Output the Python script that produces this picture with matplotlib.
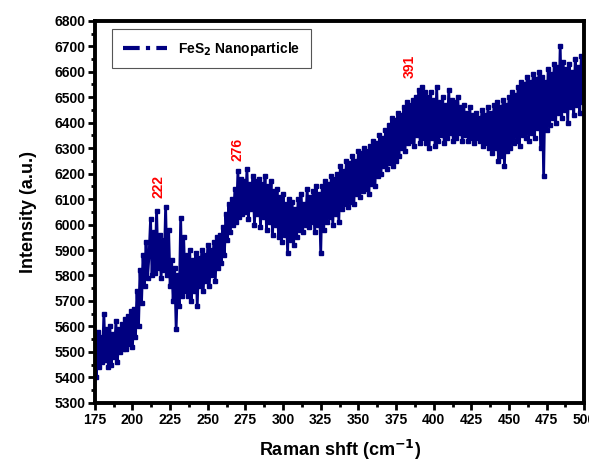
import matplotlib
matplotlib.use("Agg")
import matplotlib.pyplot as plt
import matplotlib.ticker as mplticker
import numpy as np

#
# Data (one value per cm-1 from 175 to 500)
#

intensity = [
    5520, 5400, 5580, 5440, 5560, 5460, 5650, 5470, 5590, 5440,  # 175-184
    5600, 5450, 5570, 5480, 5620, 5460, 5590, 5500, 5610, 5510,  # 185-194
    5630, 5510, 5640, 5530, 5660, 5520, 5670, 5560, 5740, 5600,  # 195-204
    5820, 5690, 5880, 5760, 5930, 5790, 5880, 6020, 5800, 5970,  # 205-214
    5810, 6055, 5830, 5960, 5790, 5940, 5820, 6070, 5800, 5980,  # 215-224
    5760, 5860, 5700, 5830, 5590, 5800, 5680, 6025, 5720, 5950,  # 225-234
    5740, 5880, 5720, 5900, 5700, 5860, 5740, 5890, 5680, 5870,  # 235-244
    5760, 5900, 5740, 5880, 5780, 5920, 5760, 5900, 5800, 5930,  # 245-254
    5780, 5950, 5830, 5960, 5850, 5990, 5880, 6040, 5940, 6080,  # 255-264
    5970, 6100, 6000, 6140, 6010, 6210, 6030, 6180, 6040, 6170,  # 265-274
    6050, 6220, 6020, 6160, 6060, 6190, 6000, 6170, 6040, 6180,  # 275-284
    5990, 6160, 6030, 6190, 5980, 6150, 6010, 6170, 5960, 6130,  # 285-294
    6000, 6140, 5950, 6110, 5930, 6120, 5960, 6080, 5890, 6100,  # 295-304
    5940, 6090, 5920, 6060, 5950, 6100, 5980, 6120, 5970, 6080,  # 305-314
    6000, 6140, 5990, 6110, 6010, 6130, 5970, 6150, 6000, 6120,  # 315-324
    5890, 6150, 5980, 6170, 6010, 6160, 6030, 6190, 6000, 6180,  # 325-334
    6040, 6200, 6010, 6230, 6060, 6210, 6080, 6250, 6070, 6240,  # 335-344
    6090, 6270, 6080, 6250, 6120, 6290, 6110, 6280, 6130, 6300,  # 345-354
    6140, 6290, 6120, 6310, 6160, 6330, 6150, 6320, 6190, 6350,  # 355-364
    6200, 6340, 6230, 6370, 6220, 6390, 6240, 6420, 6230, 6410,  # 365-374
    6250, 6440, 6270, 6430, 6300, 6460, 6290, 6480, 6320, 6470,  # 375-384
    6330, 6490, 6310, 6500, 6350, 6530, 6320, 6540, 6340, 6520,  # 385-394
    6320, 6500, 6300, 6520, 6340, 6490, 6310, 6540, 6330, 6480,  # 395-404
    6350, 6500, 6320, 6470, 6340, 6530, 6360, 6490, 6330, 6480,  # 405-414
    6340, 6500, 6360, 6460, 6330, 6470, 6350, 6440, 6330, 6460,  # 415-424
    6340, 6430, 6320, 6440, 6340, 6420, 6330, 6450, 6310, 6430,  # 425-434
    6320, 6460, 6300, 6440, 6280, 6470, 6300, 6480, 6250, 6460,  # 435-444
    6270, 6490, 6230, 6470, 6290, 6500, 6300, 6520, 6320, 6510,  # 445-454
    6330, 6540, 6310, 6560, 6350, 6550, 6340, 6580, 6330, 6560,  # 455-464
    6360, 6590, 6340, 6570, 6380, 6600, 6300, 6580, 6190, 6560,  # 465-474
    6370, 6610, 6390, 6590, 6420, 6630, 6400, 6620, 6440, 6700,  # 475-484
    6420, 6640, 6450, 6610, 6400, 6630, 6460, 6600, 6430, 6650,  # 485-494
    6470, 6620, 6440, 6660, 6480, 6640,                          # 495-500
]
raman_shift = 175 + np.arange(len(intensity))

peak_labels = ["222", "276", "391"]
peak_x = [217, 270, 384]
peak_y = [6150, 6295, 6620]

#
# Graph
#

plt.rcParams["font.family"] = ["Liberation Sans", "DejaVu Sans"]
plt.rcParams["font.weight"] = "bold"
plt.rcParams["mathtext.default"] = "bf"

fig = plt.figure(figsize=(5.89, 4.63), dpi=100)
axes = fig.add_axes([0.161, 0.13, 0.831, 0.825])

# Dense data: drawn solid so the band fills like the reference
axes.plot(raman_shift, intensity, color="#000080", linestyle="-", linewidth=2.0,
          marker="s", markersize=2.8, label="FeS$_2$ Nanoparticle")

for label, px, py in zip(peak_labels, peak_x, peak_y):
    axes.text(px, py, label, color="red", rotation=90, fontsize=10, fontweight="bold",
              ha="center", va="center")

axes.set_xlim(175, 500)
axes.set_ylim(5300, 6800)
axes.xaxis.set_major_locator(mplticker.MultipleLocator(25))
axes.xaxis.set_minor_locator(mplticker.MultipleLocator(12.5))
axes.yaxis.set_major_locator(mplticker.MultipleLocator(100))
axes.yaxis.set_minor_locator(mplticker.MultipleLocator(50))
axes.tick_params(which="major", direction="out", length=5, width=2, labelsize=10, pad=2)
axes.tick_params(which="minor", direction="out", length=3, width=2)
for spine in axes.spines.values():
    spine.set_linewidth(2.8)

axes.set_xlabel("Raman shft (cm$^{\\mathrm{-1}}$)", fontsize=13, fontweight="bold", labelpad=8)
axes.set_ylabel("Intensity (a.u.)", fontsize=13, fontweight="bold", labelpad=12)

legend = axes.legend(loc="upper left", bbox_to_anchor=(0.03, 0.985), fontsize=10,
                     handlelength=3.2, handletextpad=0.8, fancybox=False,
                     borderpad=0.75, borderaxespad=0.2, framealpha=1)
legend.get_frame().set_edgecolor("#555555")
legend.get_frame().set_linewidth(0.8)
for handle in legend.legend_handles:
    handle.set_marker("")
    handle.set_linestyle((0, (4, 1.5, 1, 1.5)))
    handle.set_linewidth(3)

fig.savefig("out.png", dpi=100)
